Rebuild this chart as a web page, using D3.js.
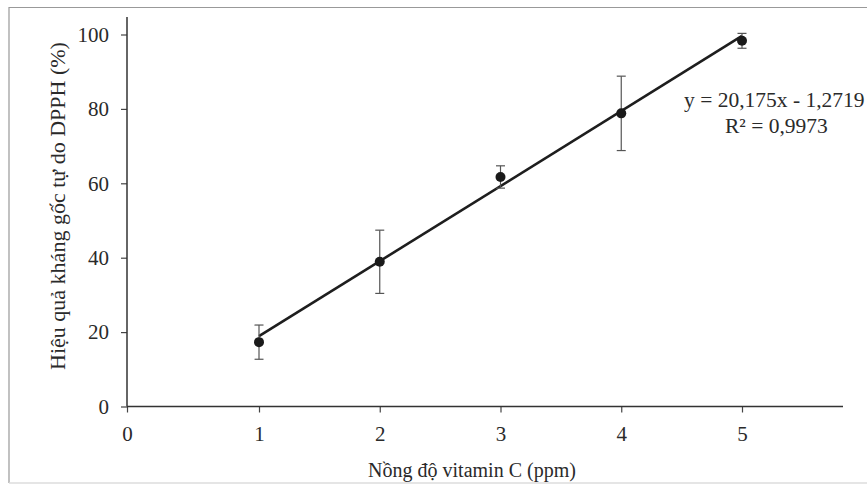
<!DOCTYPE html>
<html><head><meta charset="utf-8">
<script src="https://cdn.jsdelivr.net/npm/d3@7/dist/d3.min.js"></script>
<style>
html,body{margin:0;padding:0;background:#fff;}
svg{display:block;}
text{font-family:"Liberation Serif","Times New Roman",serif;fill:#2a2a2a;}
</style></head>
<body>
<svg id="chart" width="867" height="485"></svg>
<script>
const concentrations = [1, 2, 3, 4, 5];
const inhibition = [17.3, 38.9, 61.7, 78.8, 98.3];
const errors = [4.6, 8.5, 3.0, 10.0, 2.0];
const xTicks = [0, 1, 2, 3, 4, 5];
const yTicks = [0, 20, 40, 60, 80, 100];
const slope = 20.175, intercept = -1.2719;
const equationLines = ["y = 20,175x - 1,2719", "R² = 0,9973"];
const xTitle = "Nồng độ vitamin C (ppm)";
const yTitle = "Hiệu quả kháng gốc tự do DPPH (%)";

const svg = d3.select("#chart");
const x = d3.scaleLinear().domain([0, 1, 5, 5.84]).range([127, 259, 742, 843]);
const y = d3.scaleLinear().domain([0, 100]).range([406.5, 34.5]);

// outer frame
svg.append("path").attr("d", "M9,483 L9,7.5 L867,7.5").attr("fill", "none").attr("stroke", "#999").attr("stroke-width", 1.2);
svg.append("line").attr("x1", 9).attr("x2", 867).attr("y1", 483).attr("y2", 483).attr("stroke", "#ddd").attr("stroke-width", 1.5);

// axes
const xAxis = d3.axisBottom(x).tickValues(xTicks).tickSize(6).tickPadding(14).tickFormat(d3.format("d"));
const gx = svg.append("g").attr("transform", `translate(0,${y(0)})`).call(xAxis);
gx.select(".domain").remove();
gx.append("line").attr("x1", x(0)).attr("x2", x(5.84)).attr("stroke", "#333").attr("stroke-width", 1.5);
gx.selectAll(".tick line").attr("stroke", "#444").attr("stroke-width", 1.2);
gx.selectAll(".tick text").attr("font-size", 21).attr("fill", "#2a2a2a").attr("font-family", "Liberation Serif");

const yAxis = d3.axisLeft(y).tickValues(yTicks).tickSize(6).tickPadding(12);
const gy = svg.append("g").attr("transform", `translate(${x(0)},0)`).call(yAxis);
gy.select(".domain").remove();
gy.append("line").attr("y1", y(0)).attr("y2", 17).attr("stroke", "#333").attr("stroke-width", 1.5);
gy.selectAll(".tick line").attr("stroke", "#444").attr("stroke-width", 1.2);
gy.selectAll(".tick text").attr("font-size", 21).attr("fill", "#2a2a2a").attr("font-family", "Liberation Serif");

// trend line
const xr = d3.extent(concentrations);
svg.append("line")
  .attr("x1", x(xr[0])).attr("y1", y(slope * xr[0] + intercept))
  .attr("x2", x(xr[1])).attr("y2", y(slope * xr[1] + intercept))
  .attr("stroke", "#1e1e1e").attr("stroke-width", 2.6);

// error bars
const data = concentrations.map((c, i) => ({c, v: inhibition[i], e: errors[i]}));
const eb = svg.append("g").attr("stroke", "#555").attr("stroke-width", 1.2);
data.forEach(d => {
  eb.append("line").attr("x1", x(d.c)).attr("x2", x(d.c)).attr("y1", y(d.v - d.e)).attr("y2", y(d.v + d.e));
  [d.v - d.e, d.v + d.e].forEach(v => eb.append("line").attr("x1", x(d.c) - 4.5).attr("x2", x(d.c) + 4.5).attr("y1", y(v)).attr("y2", y(v)));
});

// points
svg.append("g").selectAll("circle").data(data).join("circle")
  .attr("cx", d => x(d.c)).attr("cy", d => y(d.v)).attr("r", 5).attr("fill", "#1a1a1a");

// equation
svg.append("text").attr("x", 684).attr("y", 107).attr("font-size", 21.5).text(equationLines[0]);
svg.append("text").attr("x", 725).attr("y", 133).attr("font-size", 21.5).text(equationLines[1]);

// titles
svg.append("text").attr("x", 472).attr("y", 477).attr("text-anchor", "middle").attr("font-size", 20).text(xTitle);
svg.append("text").attr("transform", `translate(65,206) rotate(-90)`).attr("text-anchor", "middle").attr("font-size", 22).text(yTitle);
</script>
</body></html>
